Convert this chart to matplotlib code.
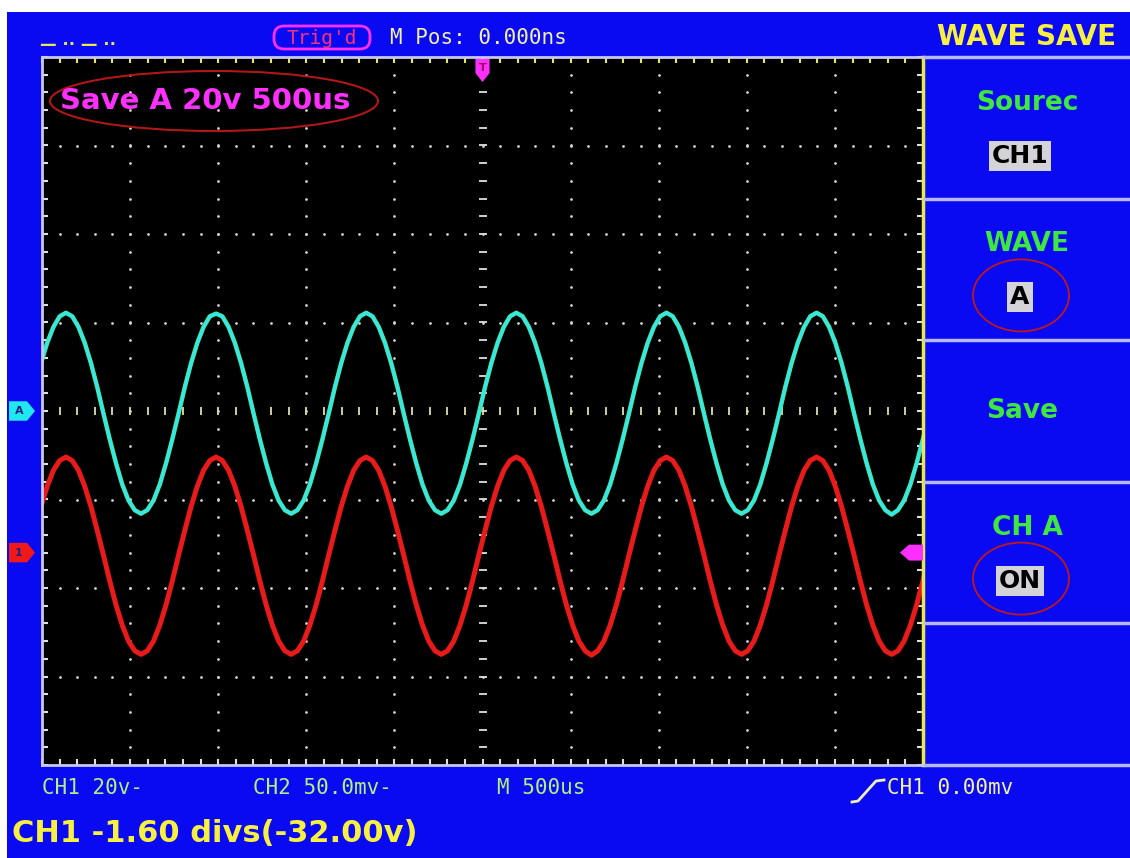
import matplotlib
matplotlib.use("Agg")
import matplotlib.pyplot as plt
import matplotlib.transforms as mtransforms
from matplotlib.patches import Rectangle, Ellipse, Polygon, FancyBboxPatch
import numpy as np

W, H = 1130, 858

# sample times in us (500 us/div, 10 divs across the screen)
t_us = [-2506, -2470.5, -2435, -2399.5, -2364, -2328.5, -2293, -2257.5, -2222, -2186.5,
        -2151, -2115.5, -2080, -2044.5, -2009, -1973.5, -1938, -1902.5, -1867, -1831.5,
        -1796, -1760.5, -1725, -1689.5, -1654, -1618.5, -1583, -1547.5, -1512, -1476.5,
        -1441, -1405.5, -1370, -1334.5, -1299, -1263.5, -1228, -1192.5, -1157, -1121.5,
        -1086, -1050.5, -1015, -979.5, -944, -908.5, -873, -837.5, -802, -766.5,
        -731, -695.5, -660, -624.5, -589, -553.5, -518, -482.5, -447, -411.5,
        -376, -340.5, -305, -269.5, -234, -198.5, -163, -127.5, -92, -56.5,
        -21, 14.5, 50, 85.5, 121, 156.5, 192, 227.5, 263, 298.5,
        334, 369.5, 405, 440.5, 476, 511.5, 547, 582.5, 618, 653.5,
        689, 724.5, 760, 795.5, 831, 866.5, 902, 937.5, 973, 1008.5,
        1044, 1079.5, 1115, 1150.5, 1186, 1221.5, 1257, 1292.5, 1328, 1363.5,
        1399, 1434.5, 1470, 1505.5, 1541, 1576.5, 1612, 1647.5, 1683, 1718.5,
        1754, 1789.5, 1825, 1860.5, 1896, 1931.5, 1967, 2002.5, 2038, 2073.5,
        2109, 2144.5, 2180, 2215.5, 2251, 2286.5, 2322, 2357.5, 2393, 2428.5,
        2464, 2499.5, 2535]

# saved waveform A (cyan), in screen divisions
ref_a = [0.54, 0.77, 0.95, 1.07,
         1.11, 1.07, 0.95, 0.77, 0.54, 0.27, -0.03, -0.32, -0.59, -0.83, -1.01, -1.12,
         -1.16, -1.12, -1.01, -0.83, -0.59, -0.32, -0.03, 0.27, 0.54, 0.77, 0.95, 1.07,
         1.10, 1.07, 0.95, 0.77, 0.54, 0.27, -0.03, -0.32, -0.59, -0.83, -1.01, -1.12,
         -1.16, -1.12, -1.01, -0.83, -0.59, -0.32, -0.03, 0.27, 0.54, 0.77, 0.95, 1.07,
         1.11, 1.07, 0.95, 0.77, 0.54, 0.27, -0.03, -0.32, -0.59, -0.83, -1.01, -1.12,
         -1.16, -1.12, -1.01, -0.83, -0.59, -0.32, -0.03, 0.27, 0.54, 0.77, 0.95, 1.07,
         1.11, 1.07, 0.95, 0.77, 0.54, 0.27, -0.03, -0.32, -0.59, -0.83, -1.01, -1.12,
         -1.16, -1.12, -1.01, -0.83, -0.59, -0.32, -0.03, 0.27, 0.54, 0.77, 0.95, 1.07,
         1.11, 1.07, 0.95, 0.77, 0.54, 0.27, -0.03, -0.32, -0.59, -0.83, -1.01, -1.12,
         -1.16, -1.12, -1.01, -0.83, -0.59, -0.32, -0.03, 0.27, 0.54, 0.77, 0.95, 1.07,
         1.11, 1.07, 0.95, 0.77, 0.54, 0.27, -0.03, -0.32, -0.59, -0.83, -1.01, -1.12,
         -1.17, -1.12, -1.01, -0.83, -0.59, -0.32, -0.03]

# CH1 live waveform (red), in screen divisions
ch1 = [-1.08, -0.85, -0.67, -0.56,
       -0.52, -0.56, -0.67, -0.85, -1.08, -1.35, -1.63, -1.92, -2.19, -2.42, -2.60, -2.71,
       -2.75, -2.71, -2.60, -2.42, -2.19, -1.92, -1.63, -1.35, -1.08, -0.85, -0.67, -0.56,
       -0.52, -0.56, -0.67, -0.85, -1.08, -1.35, -1.63, -1.92, -2.19, -2.42, -2.60, -2.71,
       -2.75, -2.71, -2.60, -2.42, -2.19, -1.92, -1.63, -1.35, -1.08, -0.85, -0.67, -0.56,
       -0.52, -0.56, -0.67, -0.85, -1.08, -1.35, -1.63, -1.92, -2.19, -2.42, -2.60, -2.71,
       -2.75, -2.71, -2.60, -2.42, -2.19, -1.92, -1.63, -1.35, -1.08, -0.85, -0.67, -0.56,
       -0.52, -0.56, -0.67, -0.85, -1.08, -1.35, -1.63, -1.92, -2.19, -2.42, -2.60, -2.71,
       -2.76, -2.71, -2.60, -2.42, -2.19, -1.92, -1.63, -1.35, -1.08, -0.85, -0.67, -0.56,
       -0.52, -0.56, -0.67, -0.85, -1.08, -1.35, -1.63, -1.92, -2.19, -2.42, -2.60, -2.71,
       -2.75, -2.71, -2.60, -2.42, -2.19, -1.92, -1.63, -1.35, -1.08, -0.85, -0.67, -0.56,
       -0.52, -0.56, -0.67, -0.85, -1.08, -1.35, -1.63, -1.92, -2.19, -2.42, -2.60, -2.71,
       -2.75, -2.71, -2.60, -2.42, -2.19, -1.92, -1.63]

ch1_offset = -1.60
ch1_volts_div = 20
ref_offset = 0.0
trig_level = -1.60

menu_titles = ["Sourec", "WAVE", "Save", "CH A", ""]
menu_values = ["CH1", "A", "", "ON", ""]
circled = [False, True, False, True, False]

status_labels = ["CH1 20v-", "CH2 50.0mv-", "M 500us", "CH1 0.00mv"]
status_x = [42, 253, 497, 887]
status_colors = ["#b0f080", "#b0f080", "#b0f080", "#f0f0a8"]

BLUE = "#0a0af2"
GREEN = "#3ee83e"
YELLOW = "#f8f040"
MAGENTA = "#ff30ff"
MONO = "DejaVu Sans Mono"

fig = plt.figure(figsize=(W / 100, H / 100), dpi=100)
fig.patch.set_facecolor("white")

# background layer (pixel coords, y down)
bg = fig.add_axes([0, 0, 1, 1], zorder=0)
bg.set_xlim(0, W)
bg.set_ylim(H, 0)
bg.axis("off")
bg.add_patch(Rectangle((7, 12), W - 7, H - 12, facecolor=BLUE, edgecolor="none"))

# scope screen
L, R, T, B = 42, 923, 57, 765
ax = fig.add_axes([L / W, (H - B) / H, (R - L) / W, (B - T) / H], zorder=1)
ax.set_facecolor("black")
ax.set_xlim(-2500, 2500)
ax.set_ylim(-4, 4)
ax.set_xticks([])
ax.set_yticks([])
for s in ["left", "top", "bottom"]:
    ax.spines[s].set_color("#c8c8f4")
    ax.spines[s].set_linewidth(2)
ax.spines["right"].set_color("#e8e850")
ax.spines["right"].set_linewidth(2.5)

xs_minor = np.arange(-2500, 2501, 100)
ys_minor = np.arange(-4, 4.001, 0.2)

for gx in range(-2000, 2001, 500):
    if gx == 0:
        continue
    ax.plot([gx] * len(ys_minor), ys_minor, ls="none", marker="o", ms=2.0,
            mec="none", color="#d0d0d0")
for gy in [-3, -2, -1, 1, 2, 3]:
    ax.plot(xs_minor, [gy] * len(xs_minor), ls="none", marker="o", ms=2.0,
            mec="none", color="#d0d0d0")
# centre cross with small ticks
ax.plot([0] * len(ys_minor), ys_minor, ls="none", marker="_", ms=6, mew=1.3, color="#e0e0e0")
ax.plot(xs_minor, [0] * len(xs_minor), ls="none", marker="|", ms=6, mew=1.3, color="#e0e0a0")

# border ticks
ax.plot(xs_minor, [4] * len(xs_minor), ls="none", marker=3, ms=4, mew=1.5, color="#e8e850", clip_on=False)
ax.plot(xs_minor, [-4] * len(xs_minor), ls="none", marker=2, ms=4, mew=1.5, color="#e0e0e0", clip_on=False)
ax.plot([-2500] * len(ys_minor), ys_minor, ls="none", marker=1, ms=4, mew=1.5, color="#e0e0e0", clip_on=False)
ax.plot([2500] * len(ys_minor), ys_minor, ls="none", marker=0, ms=4, mew=1.5, color="#e0e0e0", clip_on=False)

# traces
ax.plot(t_us, ref_a, color="#40f070", lw=3.2, solid_joinstyle="round")
ax.plot(t_us, ref_a, color="#38e4f0", lw=2.2, solid_joinstyle="round")
ax.plot(t_us, ch1, color="#e81a1a", lw=3.6, solid_joinstyle="round")

# foreground layer
fg = fig.add_axes([0, 0, 1, 1], zorder=3)
fg.set_xlim(0, W)
fg.set_ylim(H, 0)
fg.axis("off")

# top bar
fg.add_patch(FancyBboxPatch((274, 26), 96, 23, boxstyle="round,pad=0,rounding_size=10",
                            fc="none", ec=MAGENTA, lw=2))
fg.text(322, 38, "Trig'd", color="#ff3078", family=MONO, fontsize=14, ha="center", va="center")
fg.text(390, 38, "M Pos: 0.000ns", color="#f0f0a8", family=MONO, fontsize=15, ha="left", va="center")
fg.text(1116, 37, "WAVE SAVE", color=YELLOW, weight="bold", fontsize=20, ha="right", va="center")
fg.text(40, 45, "\u2014 \u00b7\u00b7 \u2014 \u00b7\u00b7", color="#e8e850", fontsize=12,
        weight="bold", ha="left", va="center")

# saved waveform label
fg.text(60, 101, "Save A 20v 500us", color=MAGENTA, weight="bold", fontsize=21, ha="left", va="center")
fg.add_patch(Ellipse((214, 101), 328, 60, fc="none", ec="#b01818", lw=1.5))

# trigger position marker (top, at t = 0)
tx = mtransforms.blended_transform_factory(ax.transData, fg.transData)
fg.add_patch(Polygon([(-40, 59), (40, 59), (40, 73), (0, 82), (-40, 73)], closed=True,
                     fc=MAGENTA, ec="none", transform=tx))
fg.text(0, 68, "T", color="#a00060", fontsize=8, weight="bold", ha="center", va="center", transform=tx)

# channel markers on the left, trigger level on the right
ty = mtransforms.blended_transform_factory(fg.transData, ax.transData)
for off, col, lab in [(ref_offset, "#20e8f0", "A"), (ch1_offset, "#f01818", "1")]:
    fg.add_patch(Polygon([(9, off + 0.11), (27, off + 0.11), (35, off), (27, off - 0.11), (9, off - 0.11)],
                         closed=True, fc=col, ec="none", transform=ty))
    fg.text(19, off, lab, color="#202080", fontsize=8, weight="bold", ha="center", va="center", transform=ty)
fg.add_patch(Polygon([(923, trig_level + 0.09), (909, trig_level + 0.09), (900, trig_level),
                      (909, trig_level - 0.09), (923, trig_level - 0.09)],
                     closed=True, fc=MAGENTA, ec="none", transform=ty))

# right menu
box_h = (B - T) / 5
for i in range(6):
    y = T + i * box_h
    fg.plot([925, W], [y, y], color="#b8b8f0", lw=2.5)
for i, (title, val, circ) in enumerate(zip(menu_titles, menu_values, circled)):
    cy = T + (i + 0.5) * box_h
    if title and val:
        fg.text(1027, cy - 25, title, color=GREEN, weight="bold", fontsize=19, ha="center", va="center")
        fg.text(1020, cy + 28, val, color="black", weight="bold", fontsize=18, ha="center", va="center",
                bbox=dict(boxstyle="square,pad=0.12", fc="#d4d4d8", ec="none"))
        if circ:
            fg.add_patch(Ellipse((1021, cy + 26), 96, 72, fc="none", ec="#c01818", lw=1.3))
    elif title:
        fg.text(1022, cy, title, color=GREEN, weight="bold", fontsize=19, ha="center", va="center")

# bottom status line
for lab, x, col in zip(status_labels, status_x, status_colors):
    fg.text(x, 788, lab, color=col, family=MONO, fontsize=15, ha="left", va="center")
fg.plot([852, 858, 876, 884], [802, 801, 781, 780], color="#f0f0a8", lw=2)

fg.text(12, 833, f"CH1 {ch1_offset:.2f} divs({ch1_offset * ch1_volts_div:.2f}v)",
        color=YELLOW, weight="bold", fontsize=22, ha="left", va="center")

fig.savefig("out.png", dpi=100, facecolor="white")
